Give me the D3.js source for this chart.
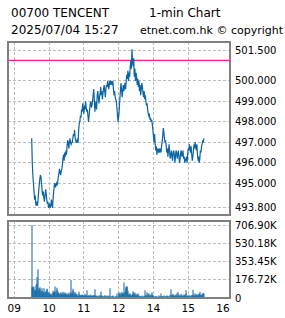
<!DOCTYPE html>
<html lang="en">
<head>
<meta charset="utf-8">
<script src="https://d3js.org/d3.v7.min.js"></script>
<style>
    body { margin: 0; background: #fff; }
    text { font-family: "DejaVu Sans", sans-serif; fill: #000; }
</style>
</head>
<body>
<script>

    let titleLeft = "00700 TENCENT";
    let titleRight = "1-min Chart";
    let stamp = "2025/07/04 15:27";
    let credit = "etnet.com.hk \u00a9 copyright";

    let prevClose = 501.0;

    // 1-min prices, 09:30 - 12:00
    let amPrice = [497.2,
        496.0, 495.4, 495.0, 494.6, 494.2, 494.4,
        494.0, 493.9, 494.1, 493.9,
        494.2, 494.6, 494.9, 495.2, 495.4,
        495.3, 495.0, 494.6, 494.4, 494.6,
        494.3, 494.1, 494.4, 494.7, 494.5,
        494.2, 494.0, 494.1, 493.8, 493.9,
        494.0, 493.8, 493.9, 494.2, 494.0, 493.8,
        494.3, 494.6, 494.9, 495.0, 494.8, 494.9, 495.0, 494.9, 495.1,
        495.3, 495.5, 495.7, 495.5, 495.4, 495.6, 495.7, 495.9, 496.2, 496.4,
        496.1, 496.5, 496.3, 496.6, 496.4,
        496.8, 497.1, 497.0, 496.7, 497.0,
        497.2, 497.0, 496.9, 497.0, 497.0, 497.2, 497.4, 497.3, 497.6, 497.2,
        497.1, 497.0, 497.0, 497.2, 497.0,
        497.6, 497.9, 498.0, 498.3, 498.2,
        498.6, 498.5, 498.9, 498.6, 498.4,
        498.8, 498.6, 499.0, 498.7, 498.5,
        498.6, 498.3, 498.0, 498.3, 498.6,
        498.9, 499.0, 498.7, 498.8, 499.0,
        499.3, 499.6, 499.1, 498.5, 498.8,
        499.0, 498.6, 499.3, 499.5, 499.2,
        498.9, 499.2, 499.4, 499.7, 499.3,
        499.5, 499.1, 499.4, 499.6, 499.8,
        499.5, 499.2, 499.6, 499.8, 499.7,
        500.0, 499.8, 499.6, 499.9, 500.0,
        499.8, 500.0, 499.9, 499.8, 500.0,
        499.6, 499.3, 499.5, 499.2, 499.1,
        499.0, 498.7, 498.3, 498.0, 498.4];

    // 1-min prices, 13:00 - 15:27
    let pmPrice = [498.2, 498.6, 499.1, 499.5, 499.9, 499.6,
        499.2, 499.5, 499.8, 499.5, 499.7,
        499.9, 499.6, 500.0, 500.3, 500.1,
        500.5, 500.0, 500.4, 500.2, 500.7,
        501.0, 500.6, 501.55, 501.0, 500.7,
        501.1, 500.2, 500.6, 500.0, 500.4,
        500.2, 499.8, 500.1, 499.7, 500.0,
        499.5, 499.8, 499.3, 499.6, 499.9,
        499.7, 499.4, 499.2, 499.5, 499.1,
        499.3, 499.0, 498.8, 498.9, 498.6,
        498.4, 498.3, 498.4, 498.1, 498.2,
        498.0, 498.1, 497.9, 497.6, 497.3,
        497.0, 497.4, 496.9, 496.6, 496.8,
        496.4, 496.7, 496.5, 496.7, 496.5,
        496.7, 496.6, 496.5, 496.8, 497.0,
        497.3, 497.7, 497.5, 497.2, 497.0,
        497.1, 496.8, 496.5, 496.7, 496.3,
        496.6, 496.9, 496.5, 496.2, 496.4,
        496.6, 496.3, 496.1, 496.5, 496.6,
        496.4, 496.0, 496.3, 496.6, 496.5,
        496.2, 496.4, 496.6, 496.3, 496.0,
        496.2, 496.5, 496.6, 496.3, 496.4,
        496.6, 496.2, 496.3, 496.0, 496.2,
        496.1, 496.3, 496.0, 496.4, 496.7,
        496.6, 496.9, 496.7, 496.5, 496.8,
        496.4, 496.1, 496.3, 496.6, 496.9,
        496.7, 497.0, 496.8, 496.6, 496.9,
        496.4, 496.1, 496.3, 496.0, 496.2,
        496.6, 496.5, 496.8, 496.9, 497.1, 497.0, 497.2];

    // volume per minute, thousands of shares
    let amVol = [706.9,
        105, 112, 98, 108, 80, 70,
        72, 125, 205,
        140, 279, 95,
        75, 105, 88, 65, 95, 70, 55,
        60, 48, 95, 62, 50, 70,
        85, 90, 60, 45, 55,
        30, 40, 25, 45, 35, 50,
        70, 55, 60, 112, 65,
        45, 100, 80, 55, 60, 40,
        35, 50, 30, 55, 40, 45,
        60, 35, 50, 30, 55, 40,
        45, 30, 50, 35, 40, 25, 55, 45, 175,
        40, 55, 70, 90, 50, 35, 60, 45,
        30, 25, 40, 20, 35, 62, 28, 22, 30,
        25, 35, 20, 30, 15, 28, 40, 22, 30, 18, 75, 25,
        20, 30, 15, 25, 35, 20, 18, 28, 22, 15, 30, 25, 85,
        20, 15, 25, 18, 12, 22, 30, 15, 62, 20,
        15, 25, 18, 10, 20, 28, 15, 12, 22, 18, 25, 12, 15, 20, 95,
        15, 10, 20, 12, 18, 25, 10, 15, 8, 12, 20, 45, 15, 10, 12];

    let pmVol = [40, 55, 45, 30, 50, 60,
        35, 45, 40, 50, 152, 60,
        110, 95, 115, 105, 70, 40, 30,
        25, 45, 35, 20, 30, 65, 40,
        55, 30, 50, 25, 40, 20, 35, 45,
        30, 25, 15, 20, 10, 18, 12, 25, 15,
        20, 12, 15, 75, 30, 20, 55, 40,
        25, 45, 20, 30, 15, 35, 25, 55, 30, 20,
        12, 18, 10, 15, 20, 8, 12, 15, 10, 25, 18, 12,
        45, 20, 15, 10, 18, 12, 25, 15,
        20, 12, 18, 25, 15, 10, 20, 12, 30, 85,
        25, 35, 20, 40, 15, 30, 20, 25, 35, 18, 45, 60,
        20, 35, 15, 25, 40, 20, 30, 15, 25, 35, 20, 15, 30,
        75, 40, 20, 25, 15, 30, 20, 12, 25, 18,
        20, 30, 80, 25, 35, 45, 20, 30, 25, 40,
        30, 20, 35, 45, 25, 60, 30, 40, 25, 35, 50, 45];

    let priceTicks = [493.8, 495, 496, 497, 498, 499, 500, 501.5];
    let volTicks = [0, 176.72, 353.45, 530.18, 706.90];
    let volTickLabels = ["0", "176.72K", "353.45K", "530.18K", "706.90K"];
    let hourTicks = [0, 60, 120, 180, 240, 300, 360];   // chart minutes, lunch hour cut out
    let hourLabels = ["09", "10", "11", "12", "14", "15", "16"];

    let w = 285;
    let h = 318;
    let left = 8, right = 230;
    let top1 = 42, bot1 = 215;
    let top2 = 221, bot2 = 298;
    let blue = "#0b64a4";

    let points = [];
    amPrice.forEach(function (p, i) { points.push({ t: 30 + i, price: p, vol: amVol[i] }); });
    pmPrice.forEach(function (p, i) { points.push({ t: 180 + i, price: p, vol: pmVol[i] }); });

    let svg = d3.select("body").append("svg")
        .attr("width", w)
        .attr("height", h);

    svg.append("rect").attr("width", w).attr("height", h).attr("fill", "#fff");

    let x = d3.scaleLinear().domain([0, 360]).range([14.3, 223]);
    let y = d3.scaleLinear().domain([493.45, 501.9]).range([bot1, top1]);
    let yv = d3.scaleLinear().domain([0, 748]).range([bot2, top2]);

    // header
    svg.append("text").attr("x", 11).attr("y", 16.5).attr("font-size", 12).text(titleLeft);
    svg.append("text").attr("x", 149).attr("y", 16.5).attr("font-size", 12).text(titleRight);
    svg.append("text").attr("x", 11).attr("y", 33.5).attr("font-size", 12).text(stamp);
    svg.append("text").attr("x", 283).attr("y", 33.5).attr("font-size", 11)
        .attr("text-anchor", "end").text(credit);

    let grid = svg.append("g")
        .attr("stroke", "#bdbdbd")
        .attr("stroke-width", 1)
        .attr("stroke-dasharray", "3,2")
        .attr("shape-rendering", "crispEdges");

    grid.selectAll(".hp")
        .data(priceTicks)
        .join("line")
        .attr("x1", left).attr("x2", right)
        .attr("y1", function (d) { return y(d); })
        .attr("y2", function (d) { return y(d); });

    grid.selectAll(".hv")
        .data(volTicks.slice(1))
        .join("line")
        .attr("class", "hv")
        .attr("x1", left).attr("x2", right)
        .attr("y1", function (d) { return yv(d); })
        .attr("y2", function (d) { return yv(d); });

    [[top1, bot1], [top2, bot2]].forEach(function (r) {
        grid.append("g").selectAll("line")
            .data(hourTicks.slice(0, 6))
            .join("line")
            .attr("x1", function (d) { return x(d); })
            .attr("x2", function (d) { return x(d); })
            .attr("y1", r[0]).attr("y2", r[1]);
    });

    // previous close
    svg.append("line")
        .attr("x1", left).attr("x2", right)
        .attr("y1", y(prevClose)).attr("y2", y(prevClose))
        .attr("stroke", "#ff1a8c")
        .attr("stroke-width", 1.2);

    // price line
    let line = d3.line()
        .x(function (d) { return x(d.t); })
        .y(function (d) { return y(d.price); });

    svg.append("path")
        .datum(points)
        .attr("d", line)
        .attr("fill", "none")
        .attr("stroke", blue)
        .attr("stroke-width", 1.2);

    // volume bars
    svg.append("g")
        .selectAll("rect")
        .data(points)
        .join("rect")
        .attr("x", function (d) { return Math.round(x(d.t)) - 0.5; })
        .attr("y", function (d) { return yv(d.vol); })
        .attr("width", 1)
        .attr("height", function (d) { return bot2 - yv(d.vol); })
        .attr("fill", blue);

    // frames
    svg.append("rect")
        .attr("x", left).attr("y", top1)
        .attr("width", right - left).attr("height", bot1 - top1)
        .attr("fill", "none").attr("stroke", "#808080").attr("stroke-width", 2);
    svg.append("rect")
        .attr("x", left).attr("y", top2)
        .attr("width", right - left).attr("height", bot2 - top2)
        .attr("fill", "none").attr("stroke", "#808080").attr("stroke-width", 2);

    // right labels
    svg.append("g").selectAll("text")
        .data(priceTicks)
        .join("text")
        .attr("x", 235)
        .attr("y", function (d) { return y(d); })
        .attr("dy", "0.36em")
        .attr("font-size", 10)
        .text(function (d) { return d.toFixed(3); });

    svg.append("g").selectAll("text")
        .data(volTicks)
        .join("text")
        .attr("x", 235)
        .attr("y", function (d) { return yv(d); })
        .attr("dy", "0.36em")
        .attr("font-size", 10)
        .text(function (d, i) { return volTickLabels[i]; });

    // time labels
    svg.append("g").selectAll("text")
        .data(hourTicks)
        .join("text")
        .attr("x", function (d) { return x(d); })
        .attr("y", 311.5)
        .attr("text-anchor", "middle")
        .attr("font-size", 10.5)
        .text(function (d, i) { return hourLabels[i]; });

</script>
</body>
</html>
